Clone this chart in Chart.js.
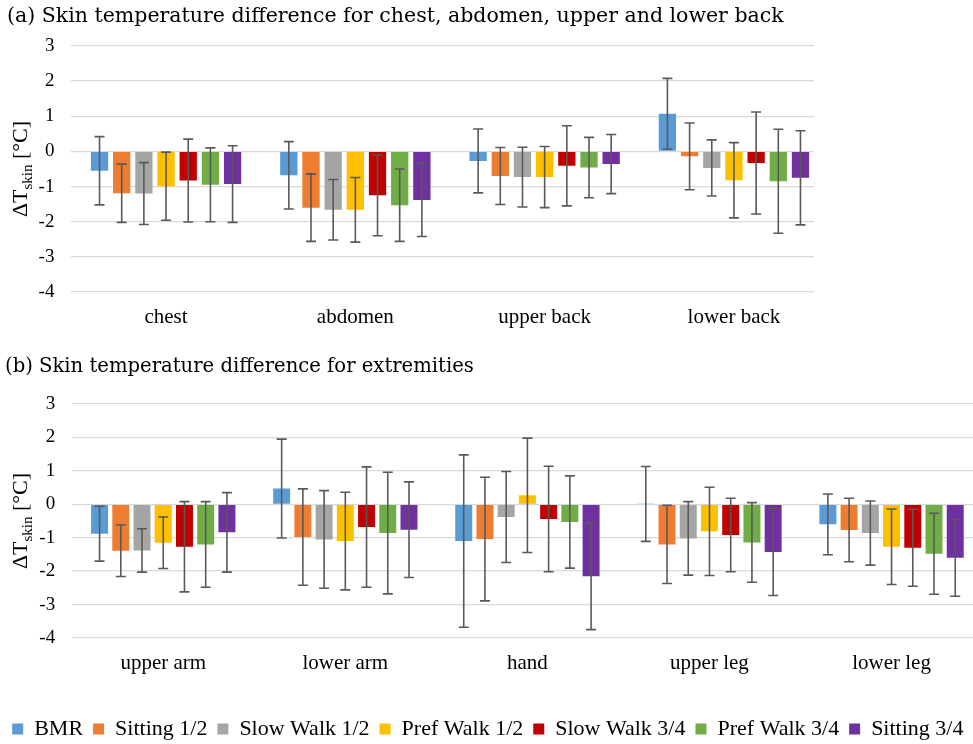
<!DOCTYPE html>
<html>
<head>
<meta charset="utf-8">
<script src="https://cdn.jsdelivr.net/npm/chart.js@4.4.1/dist/chart.umd.min.js"></script>
<style>
    html, body { margin: 0; padding: 0; background: #fff; overflow: hidden; }
    #chartA { position: absolute; left: 0; top: 0; }
    #chartB { position: absolute; left: 0; top: 345px; }
</style>
</head>
<body>
<canvas id="chartA" width="973" height="345"></canvas>
<canvas id="chartB" width="990" height="410"></canvas>
<script>
// series (activities)
var seriesNames = ['BMR', 'Sitting 1/2', 'Slow Walk 1/2', 'Pref Walk 1/2', 'Slow Walk 3/4', 'Pref Walk 3/4', 'Sitting 3/4'];
var seriesColors = ['#5B9BD5', '#ED7D31', '#A5A5A5', '#FFC000', '#C00000', '#70AD47', '#7030A0'];

// (a) trunk sites
var trunkSites = ['chest', 'abdomen', 'upper back', 'lower back'];
var trunkBMR        = [-0.55, -0.68, -0.27,  1.07];
var trunkSitting12  = [-1.19, -1.60, -0.70, -0.14];
var trunkSlowWalk12 = [-1.20, -1.66, -0.73, -0.47];
var trunkPrefWalk12 = [-0.99, -1.66, -0.73, -0.82];
var trunkSlowWalk34 = [-0.83, -1.25, -0.41, -0.33];
var trunkPrefWalk34 = [-0.95, -1.53, -0.46, -0.85];
var trunkSitting34  = [-0.93, -1.38, -0.36, -0.75];
// error bar half lengths
var trunkBMRErr        = [0.97, 0.96, 0.91, 1.01];
var trunkSitting12Err  = [0.83, 0.96, 0.81, 0.95];
var trunkSlowWalk12Err = [0.88, 0.86, 0.85, 0.80];
var trunkPrefWalk12Err = [0.97, 0.92, 0.87, 1.07];
var trunkSlowWalk34Err = [1.18, 1.15, 1.14, 1.45];
var trunkPrefWalk34Err = [1.05, 1.03, 0.86, 1.48];
var trunkSitting34Err  = [1.09, 1.04, 0.84, 1.34];

// (b) extremities
var limbSites = ['upper arm', 'lower arm', 'hand', 'upper leg', 'lower leg'];
var limbBMR        = [-0.88,  0.47, -1.10,  0.01, -0.60];
var limbSitting12  = [-1.39, -0.98, -1.04, -1.20, -0.77];
var limbSlowWalk12 = [-1.38, -1.05, -0.38, -1.02, -0.86];
var limbPrefWalk12 = [-1.15, -1.10,  0.27, -0.81, -1.27];
var limbSlowWalk34 = [-1.27, -0.68, -0.44, -0.92, -1.30];
var limbPrefWalk34 = [-1.20, -0.86, -0.53, -1.14, -1.48];
var limbSitting34  = [-0.84, -0.76, -2.15, -1.43, -1.60];
var limbBMRErr        = [0.82, 1.48, 2.58, 1.12, 0.91];
var limbSitting12Err  = [0.77, 1.44, 1.85, 1.17, 0.95];
var limbSlowWalk12Err = [0.65, 1.46, 1.36, 1.10, 0.96];
var limbPrefWalk12Err = [0.77, 1.46, 1.71, 1.32, 1.13];
var limbSlowWalk34Err = [1.35, 1.80, 1.58, 1.10, 1.15];
var limbPrefWalk34Err = [1.28, 1.82, 1.38, 1.19, 1.21];
var limbSitting34Err  = [1.19, 1.43, 1.60, 1.30, 1.15];

var yTicks = [-4, -3, -2, -1, 0, 1, 2, 3];

var serif = '"Liberation Serif", "Times New Roman", serif';

// draws the +/- error whiskers on every bar
var errorBarPlugin = {
    id: 'errorBars',
    afterDatasetsDraw: function (chart) {
        var ctx = chart.ctx;
        var yScale = chart.scales.y;
        ctx.save();
        ctx.strokeStyle = '#595959';
        ctx.lineWidth = 1.6;
        chart.data.datasets.forEach(function (ds, i) {
            var meta = chart.getDatasetMeta(i);
            if (!chart.isDatasetVisible(i)) return;
            meta.data.forEach(function (bar, j) {
                var v = ds.data[j];
                var e = ds.errors[j];
                var yTop = yScale.getPixelForValue(v + e);
                var yBot = yScale.getPixelForValue(v - e);
                var x = bar.x;
                ctx.beginPath();
                ctx.moveTo(x, yTop); ctx.lineTo(x, yBot);
                ctx.moveTo(x - 5, yTop); ctx.lineTo(x + 5, yTop);
                ctx.moveTo(x - 5, yBot); ctx.lineTo(x + 5, yBot);
                ctx.stroke();
            });
        });
        ctx.restore();
    }
};

// the gridlines of panel (a) stop a little short of the plot's right edge,
// and the legend of panel (b) sits centred on the visible page, not on the wider canvas
var trimPlugin = {
    id: 'trim',
    afterLayout: function (chart, args, opts) {
        if (opts.legendShift && chart.legend) {
            chart.legend.left -= opts.legendShift;
            chart.legend.right -= opts.legendShift;
        }
    },
    beforeDatasetsDraw: function (chart, args, opts) {
        if (!opts.grid) return;
        var area = chart.chartArea;
        var ctx = chart.ctx;
        ctx.save();
        ctx.fillStyle = '#fff';
        ctx.fillRect(area.right - opts.grid, area.top - 2, opts.grid + 2, area.bottom - area.top + 4);
        ctx.restore();
    }
};

// rotated axis title with a subscript
var yTitlePlugin = {
    id: 'yTitle',
    afterDraw: function (chart) {
        var ctx = chart.ctx, area = chart.chartArea;
        var big = '22px ' + serif, small = '15px ' + serif;
        ctx.save();
        ctx.translate(27, (area.top + area.bottom) / 2);
        ctx.rotate(-Math.PI / 2);
        ctx.fillStyle = '#000';
        ctx.textBaseline = 'alphabetic';
        ctx.font = big;
        var w1 = ctx.measureText('\u0394T').width;
        var w3 = ctx.measureText(' [\u00B0C]').width;
        ctx.font = small;
        var w2 = ctx.measureText('skin').width;
        var x0 = -(w1 + w2 + w3) / 2;
        ctx.font = big;
        ctx.fillText('\u0394T', x0, 0);
        ctx.font = small;
        ctx.fillText('skin', x0 + w1, 5);
        ctx.font = big;
        ctx.fillText(' [\u00B0C]', x0 + w1 + w2, 0);
        ctx.restore();
    }
};

function makeDatasets(values, errors) {
    return seriesNames.map(function (name, i) {
        return {
            label: name,
            data: values[i],
            errors: errors[i],
            backgroundColor: seriesColors[i],
            borderWidth: 0
        };
    });
}

function makeChart(id, labels, datasets, o) {
    return new Chart(document.getElementById(id), {
        type: 'bar',
        data: { labels: labels, datasets: datasets },
        plugins: [trimPlugin, errorBarPlugin, yTitlePlugin],
        options: {
            responsive: false,
            animation: false,
            devicePixelRatio: 1,
            categoryPercentage: o.catPct,
            barPercentage: o.barPct,
            layout: { padding: o.padding },
            plugins: {
                title: {
                    display: true,
                    text: o.title,
                    align: 'start',
                    color: '#000',
                    font: { family: '"DejaVu Serif", serif', size: o.titleSize, weight: 'normal' },
                    padding: o.titlePad
                },
                legend: {
                    display: o.legend,
                    position: 'bottom',
                    labels: {
                        color: '#000',
                        boxWidth: 11,
                        boxHeight: 11,
                        padding: 10,
                        font: { family: serif, size: 22 }
                    }
                },
                tooltip: { enabled: false },
                trim: { grid: o.gridTrim, legendShift: o.legendShift }
            },
            scales: {
                x: {
                    grid: { display: false },
                    border: { display: false },
                    ticks: { color: '#000', padding: 5, font: { family: serif, size: 21 } },
                    afterFit: function (s) { s.height = o.xHeight; }
                },
                y: {
                    min: -4,
                    max: 3,
                    afterBuildTicks: function (s) {
                        s.ticks = yTicks.map(function (v) { return { value: v }; });
                    },
                    grid: { color: '#D9D9D9', lineWidth: 1.3, drawTicks: false },
                    border: { display: false },
                    ticks: { color: '#000', padding: 17, font: { family: serif, size: 19 } },
                    afterFit: function (s) { s.width = o.yWidth; }
                }
            }
        }
    });
}

makeChart('chartA', trunkSites,
    makeDatasets(
        [trunkBMR, trunkSitting12, trunkSlowWalk12, trunkPrefWalk12, trunkSlowWalk34, trunkPrefWalk34, trunkSitting34],
        [trunkBMRErr, trunkSitting12Err, trunkSlowWalk12Err, trunkPrefWalk12Err, trunkSlowWalk34Err, trunkPrefWalk34Err, trunkSitting34Err]),
    {
        title: '(a) Skin temperature difference for chest, abdomen, upper and lower back',
        titleSize: 20.5,
        titlePad: { top: 4.5, bottom: 16.9 },
        padding: { left: 7, right: 144.4, top: 0, bottom: 8 },
        yWidth: 64.4, xHeight: 45,
        catPct: 0.82, barPct: 0.78,
        gridTrim: 14.6, legendShift: 0,
        legend: false
    });

makeChart('chartB', limbSites,
    makeDatasets(
        [limbBMR, limbSitting12, limbSlowWalk12, limbPrefWalk12, limbSlowWalk34, limbPrefWalk34, limbSitting34],
        [limbBMRErr, limbSitting12Err, limbSlowWalk12Err, limbPrefWalk12Err, limbSlowWalk34Err, limbPrefWalk34Err, limbSitting34Err]),
    {
        title: '(b) Skin temperature difference for extremities',
        titleSize: 19.6,
        titlePad: { top: 9.75, bottom: 25.75 },
        padding: { left: 5, right: 7.4, top: 0, bottom: 5 },
        yWidth: 67.2, xHeight: 70,
        catPct: 0.816, barPct: 0.8,
        gridTrim: 0, legendShift: 6,
        legend: true
    });
</script>
</body>
</html>
